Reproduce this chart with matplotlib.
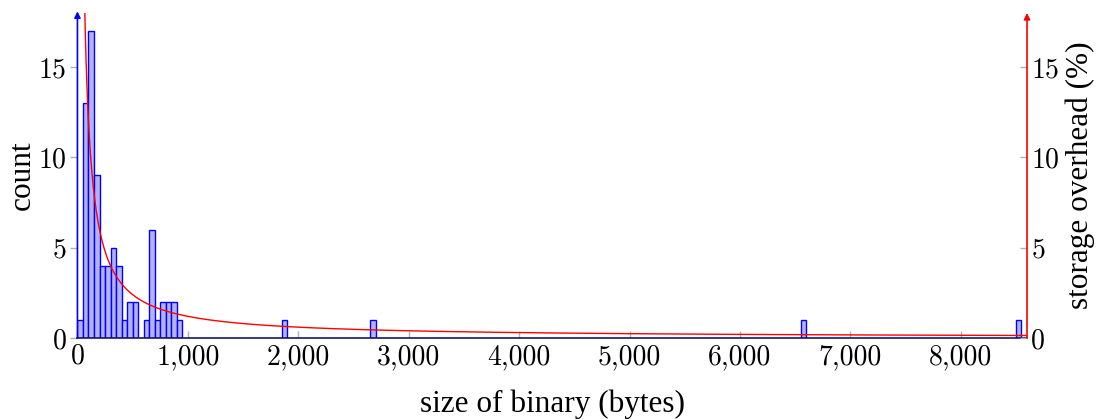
import matplotlib
matplotlib.use("Agg")
import matplotlib.pyplot as plt
import numpy as np
from matplotlib.ticker import FuncFormatter, FixedLocator

# histogram bins (bin start in bytes, width 50) and counts
bin_width = 50
bin_starts = [0, 50, 100, 150, 200, 250, 300, 350, 400, 450, 500,
              600, 650, 700, 750, 800, 850, 900,
              1850, 2650, 6550, 8500]
counts = [1, 13, 17, 9, 4, 4, 5, 4, 1, 2, 2,
          1, 6, 1, 2, 2, 2, 1,
          1, 1, 1, 1]

# storage overhead curve: fixed overhead (bytes) relative to binary size
overhead_bytes = 12
curve_x = np.linspace(10, 8600, 2000)
curve_y = overhead_bytes / curve_x * 100

x_ticks = [0, 1000, 2000, 3000, 4000, 5000, 6000, 7000, 8000]
y_ticks = [0, 5, 10, 15]
xlim = (0, 8600)
ylim = (0, 18)

plt.rcParams['font.family'] = ['cmr10', 'DejaVu Serif']
plt.rcParams['axes.formatter.use_mathtext'] = True
plt.rcParams['font.size'] = 20

fig = plt.figure(figsize=(10.97, 4.19), dpi=100)
ax = fig.add_axes([0.0706, 0.1933, 0.8656, 0.7757])
ax2 = ax.twinx()

ax.bar(bin_starts, counts, width=bin_width, align='edge',
       facecolor='#b3b3ff', edgecolor='#0000ff', linewidth=1.0, zorder=2)
ax2.plot(curve_x, curve_y, color='#ff0000', linewidth=1.0, clip_on=True)

for a in (ax, ax2):
    a.set_xlim(*xlim)
    a.set_ylim(*ylim)
    for s in a.spines.values():
        s.set_visible(False)

ax.spines['bottom'].set_visible(True)
ax.spines['bottom'].set_color('#1a1a5e')
ax.spines['bottom'].set_linewidth(1.2)

ax.xaxis.set_major_locator(FixedLocator(x_ticks))
ax.xaxis.set_major_formatter(FuncFormatter(lambda v, p: f"{int(v):,}"))
ax.yaxis.set_major_locator(FixedLocator(y_ticks))
ax.yaxis.set_major_formatter(FuncFormatter(lambda v, p: f"{int(v)}"))
ax2.yaxis.set_major_locator(FixedLocator(y_ticks))
ax2.yaxis.set_major_formatter(FuncFormatter(lambda v, p: f"{int(v)}"))

ax.tick_params(axis='x', direction='in', length=5, color='#b0b0b0', width=1,
               pad=4, labelsize=20)
ax.tick_params(axis='y', direction='out', length=5, color='#b0b0b0', width=1,
               pad=3, labelsize=20)
ax2.tick_params(axis='y', direction='in', length=5, color='#b0b0b0', width=1,
                pad=3, labelsize=20)

# axis arrows
ax.annotate('', xy=(0, 1.005), xytext=(0, 0), xycoords='axes fraction',
            textcoords='axes fraction',
            arrowprops=dict(arrowstyle='-|>', color='#0000ff', lw=1.2,
                            mutation_scale=9, shrinkA=0, shrinkB=0))
ax2.annotate('', xy=(1, 1.0), xytext=(1, 0), xycoords='axes fraction',
             textcoords='axes fraction',
             arrowprops=dict(arrowstyle='-|>', color='#ff0000', lw=1.2,
                             mutation_scale=9, shrinkA=0, shrinkB=0))

label_font = dict(family='Liberation Serif', size=22.5)
ax.set_xlabel('size of binary (bytes)', fontdict=label_font, labelpad=14)
ax.set_ylabel('count', fontdict=label_font, labelpad=1)
ax2.set_ylabel('storage overhead (%)', fontdict=label_font, labelpad=5)

fig.savefig('out.png', dpi=100)
